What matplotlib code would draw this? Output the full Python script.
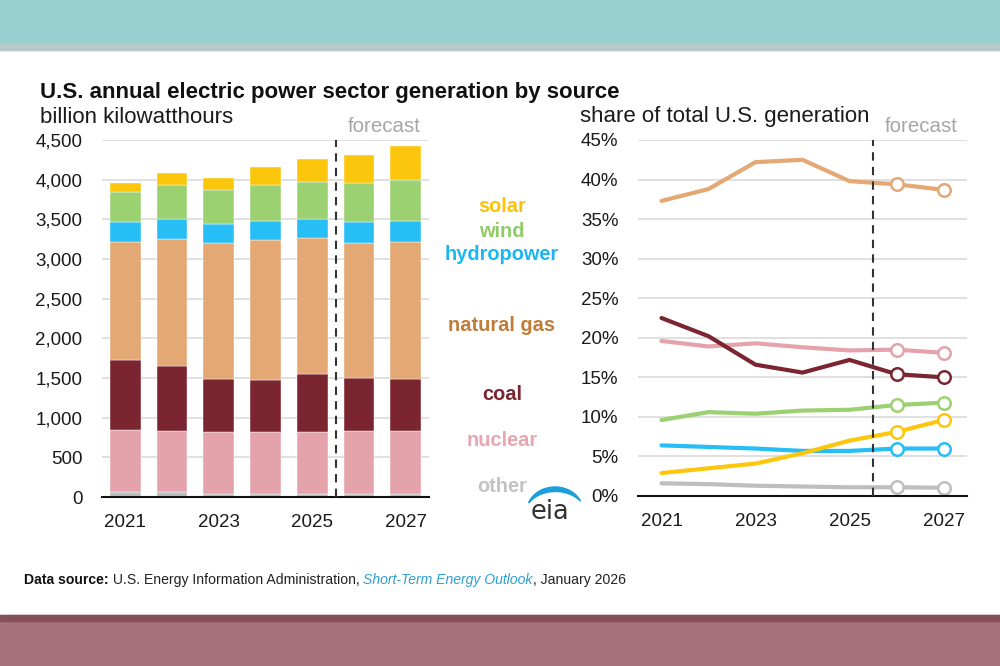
import numpy as np
import matplotlib
matplotlib.use("Agg")
import matplotlib.pyplot as plt
from matplotlib.patches import Rectangle, Polygon
from matplotlib.ticker import FuncFormatter

plt.rcParams['font.family'] = ['Liberation Sans', 'DejaVu Sans']

years = [2021, 2022, 2023, 2024, 2025, 2026, 2027]
sources = ['other', 'nuclear', 'coal', 'natural gas', 'hydropower', 'wind', 'solar']

# billion kWh, bottom to top of the stack
gen_other = [59, 59, 42, 42, 42, 42, 42]
gen_nuclear = [782, 769, 778, 778, 778, 791, 791]
gen_coal = [892, 825, 673, 656, 736, 668, 660]
gen_gas = [1480, 1594, 1707, 1767, 1708, 1699, 1716]
gen_hydro = [257, 252, 240, 239, 243, 270, 273]
gen_wind = [378, 433, 425, 454, 467, 492, 513]
gen_solar = [114, 147, 160, 219, 286, 349, 429]

# share of total U.S. generation, percent
sh_gas = [37.3, 38.8, 42.2, 42.5, 39.8, 39.4, 38.7]
sh_coal = [22.5, 20.2, 16.6, 15.6, 17.2, 15.4, 15.0]
sh_nuclear = [19.6, 18.9, 19.3, 18.8, 18.4, 18.5, 18.1]
sh_wind = [9.6, 10.6, 10.4, 10.8, 10.9, 11.5, 11.8]
sh_hydro = [6.4, 6.2, 6.0, 5.7, 5.7, 6.0, 6.0]
sh_solar = [2.9, 3.5, 4.1, 5.4, 7.0, 8.1, 9.6]
sh_other = [1.6, 1.5, 1.3, 1.2, 1.1, 1.1, 1.05]

forecast_start = 2025.5
fc_years = [2026, 2027]

bar_col = {'other': '#BEBEBE', 'nuclear': '#E4A3AB', 'coal': '#7A2530',
           'natural gas': '#E3A874', 'hydropower': '#27BDF5',
           'wind': '#9CD171', 'solar': '#FCC60D'}
lbl_col = {'other': '#C3C3C3', 'nuclear': '#E7A7AF', 'coal': '#7A2530',
           'natural gas': '#C27C3A', 'hydropower': '#1FB6F0',
           'wind': '#90CB67', 'solar': '#FBC20B'}

fig = plt.figure(figsize=(10, 6.66), dpi=100)
fig.patch.set_facecolor('white')
H = 666.0

def fy(px):
    return 1 - px / H

# blurred photo bands above and below the card
fig.patches.append(Rectangle((0, fy(50)), 1, 50 / H, transform=fig.transFigure,
                             color='#98D0D2', zorder=-5))
fig.patches.append(Rectangle((0, fy(50)), 1, 6 / H, transform=fig.transFigure,
                             color='#B9C9CA', zorder=-4))
fig.patches.append(Rectangle((0, 0), 1, 51 / H, transform=fig.transFigure,
                             color='#A8707A', zorder=-5))
fig.patches.append(Rectangle((0, 45 / H), 1, 6 / H, transform=fig.transFigure,
                             color='#84505A', zorder=-4))

axL = fig.add_axes([0.102, fy(497), 0.327, 357 / H])
axR = fig.add_axes([0.638, fy(496), 0.329, 356 / H])

# ---- left: stacked bars
stack = {'other': gen_other, 'nuclear': gen_nuclear, 'coal': gen_coal,
         'natural gas': gen_gas, 'hydropower': gen_hydro, 'wind': gen_wind,
         'solar': gen_solar}
bottom = np.zeros(len(years))
for s in sources:
    vals = np.array(stack[s], dtype=float)
    axL.bar(years, vals, bottom=bottom, width=0.66, color=bar_col[s],
            edgecolor='white', linewidth=0.3, zorder=3)
    bottom += vals

axL.set_ylim(0, 4500)
axL.set_yticks(np.arange(0, 4501, 500))
axL.yaxis.set_major_formatter(FuncFormatter(lambda v, p: f'{int(v):,}'))

# ---- right: share lines
shares = {'natural gas': sh_gas, 'coal': sh_coal, 'nuclear': sh_nuclear,
          'wind': sh_wind, 'hydropower': sh_hydro, 'solar': sh_solar,
          'other': sh_other}
for s in ['other', 'hydropower', 'solar', 'wind', 'nuclear', 'coal', 'natural gas']:
    v = shares[s]
    axR.plot(years, v, color=bar_col[s], lw=3, solid_capstyle='round',
             solid_joinstyle='round', zorder=3)
    axR.plot(fc_years, v[-2:], ls='none', marker='o', ms=9,
             mfc='white', mec=bar_col[s], mew=1.8, zorder=4)
axR.set_ylim(0, 45)
axR.set_yticks(np.arange(0, 46, 5))
axR.yaxis.set_major_formatter(FuncFormatter(lambda v, p: f'{int(v)}%'))

for ax in (axL, axR):
    ax.set_xlim(2020.5, 2027.5)
    ax.set_xticks([2021, 2023, 2025, 2027])
    for sp in ['top', 'right', 'left']:
        ax.spines[sp].set_visible(False)
    ax.spines['bottom'].set_linewidth(1.5)
    ax.spines['bottom'].set_color('#111111')
    ax.spines['bottom'].set_zorder(5)
    ax.grid(axis='y', color='#DADADA', lw=1.2, zorder=0)
    ax.set_axisbelow(True)
    ax.tick_params(length=0, labelsize=13.5, colors='#1A1A1A')
    ax.tick_params(axis='y', pad=14)
    ax.tick_params(axis='x', pad=12)
    ax.axvline(forecast_start, color='#333333', lw=1.5, ls=(0, (4, 3)), zorder=6)

# ---- titles and notes
fig.text(0.040, fy(98), 'U.S. annual electric power sector generation by source',
         fontsize=16, weight='bold', color='#111111', va='baseline')
fig.text(0.040, fy(123), 'billion kilowatthours', fontsize=16,
         color='#1A1A1A', va='baseline')
fig.text(0.580, fy(122), 'share of total U.S. generation', fontsize=16,
         color='#1A1A1A', va='baseline')
fig.text(0.348, fy(132), 'forecast', fontsize=14.8, color='#A6A6A6', va='baseline')
fig.text(0.885, fy(132), 'forecast', fontsize=14.8, color='#A6A6A6', va='baseline')

label_y = {'solar': 207, 'wind': 232, 'hydropower': 255, 'natural gas': 325,
           'coal': 394, 'nuclear': 441, 'other': 487}
for s, py in label_y.items():
    fig.text(0.502, fy(py), s, fontsize=14.4, weight='bold', color=lbl_col[s],
             ha='center', va='center')

# eia logo: letters and swoosh
fig.text(0.550, fy(519), 'eia', fontsize=18.5, family='DejaVu Sans',
         color='#333333', ha='center', va='baseline')
t = np.linspace(np.radians(160), np.radians(25), 50)
u = np.linspace(0, 1, 50)
thk = 4.5 * np.sin(np.pi * u) ** 0.8
ox = 555 + 28 * np.cos(t)
oy = 511 - 24 * np.sin(t)
ix = 555 + (28 - thk) * np.cos(t)
iy = 511 - (24 - thk) * np.sin(t)
px = np.concatenate([ox, ix[::-1]]) / 1000.0
py_ = 1 - np.concatenate([oy, iy[::-1]]) / H
fig.patches.append(Polygon(np.column_stack([px, py_]), closed=True,
                           transform=fig.transFigure, color='#1A9FDB'))

# data source line
src_y = fy(584)
t1 = fig.text(0.024, src_y, 'Data source:', fontsize=10.1, weight='bold',
              color='#111111', va='baseline')
t2 = axL.annotate(' U.S. Energy Information Administration, ', xy=(1, 0),
                  xycoords=t1, va='bottom', ha='left', fontsize=10.1,
                  color='#222222', annotation_clip=False)
t3 = axL.annotate('Short-Term Energy Outlook', xy=(1, 0), xycoords=t2,
                  va='bottom', ha='left', fontsize=10.1, style='italic',
                  color='#2E9FD3', annotation_clip=False)
axL.annotate(', January 2026', xy=(1, 0), xycoords=t3, va='bottom', ha='left',
             fontsize=10.1, color='#222222', annotation_clip=False)

fig.savefig('out.png', dpi=100)
